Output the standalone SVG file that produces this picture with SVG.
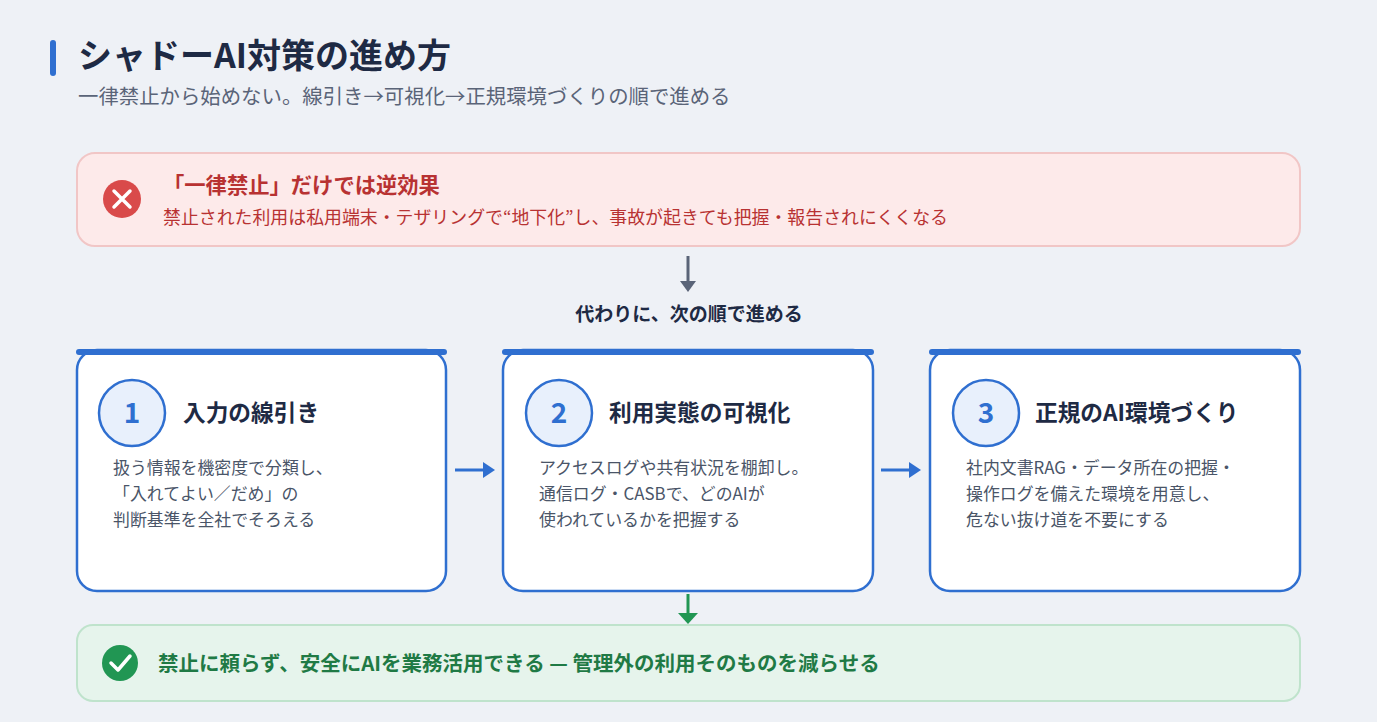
<svg xmlns="http://www.w3.org/2000/svg" width="1377" height="722" viewBox="0 0 1377 722">
<style>
text{font-family:"Noto Sans CJK JP","Noto Sans",sans-serif}
.card{fill:#fff;stroke:#2f6fd0;stroke-width:2.5}
.bar{stroke:#2f6fd0;stroke-width:6;stroke-linecap:round}
.circ{fill:#e8f0fc;stroke:#2f6fd0;stroke-width:2.5}
.num{font-size:28px;font-weight:700;fill:#2f6fd0;text-anchor:middle}
.ttl{font-size:22.7px;font-weight:700;fill:#1e2a44}
.body{font-size:16.9px;fill:#4a5568}
</style>
<rect width="1377" height="722" fill="#eef1f6"/>
<rect x="50" y="40" width="6" height="36" rx="3" fill="#2f6fd0"/>
<text x="78" y="68" font-size="34" font-weight="700" fill="#1e2a44">シャドーAI対策の進め方</text>
<text x="78" y="104" font-size="20.4" fill="#5a6478">一律禁止から始めない。線引き→可視化→正規環境づくりの順で進める</text>

<g id="warn">
<rect x="77" y="153" width="1223" height="93" rx="18" fill="#fdeaea" stroke="#f1c6c6" stroke-width="2"/>
<circle cx="122" cy="199" r="19" fill="#d94a4a"/>
<path d="M114,191L130,207M130,191L114,207" stroke="#fff" stroke-width="3.5" stroke-linecap="round"/>
<text x="163" y="193" font-size="21.3" font-weight="700" fill="#b83232">「一律禁止」だけでは逆効果</text>
<text x="163" y="224" font-size="17.9" fill="#b83232">禁止された利用は私用端末・テザリングで“地下化”し、事故が起きても把握・報告されにくくなる</text>
</g>
<text x="689" y="321" font-size="19" font-weight="700" fill="#1e2a44" text-anchor="middle">代わりに、次の順で進める</text>

<g id="step1">
<rect class="card" x="77" y="350" width="369" height="241" rx="20"/>
<line class="bar" x1="79" y1="352" x2="444" y2="352"/>
<circle class="circ" cx="132" cy="413" r="33"/>
<text class="num" x="132" y="423">1</text>
<text class="ttl" x="183" y="421">入力の線引き</text>
<text class="body" x="113" y="474">扱う情報を機密度で分類し、</text>
<text class="body" x="113" y="500">「入れてよい／だめ」の</text>
<text class="body" x="113" y="526">判断基準を全社でそろえる</text>
</g>
<g id="step2">
<rect class="card" x="503" y="350" width="370" height="241" rx="20"/>
<line class="bar" x1="505" y1="352" x2="871" y2="352"/>
<circle class="circ" cx="559" cy="413" r="33"/>
<text class="num" x="559" y="423">2</text>
<text class="ttl" x="609" y="421">利用実態の可視化</text>
<text class="body" x="539" y="474">アクセスログや共有状況を棚卸し。</text>
<text class="body" x="539" y="500">通信ログ・CASBで、どのAIが</text>
<text class="body" x="539" y="526">使われているかを把握する</text>
</g>
<g id="step3">
<rect class="card" x="930" y="350" width="370" height="241" rx="20"/>
<line class="bar" x1="932" y1="352" x2="1298" y2="352"/>
<circle class="circ" cx="986" cy="413" r="33"/>
<text class="num" x="986" y="423">3</text>
<text class="ttl" x="1035" y="421">正規のAI環境づくり</text>
<text class="body" x="966" y="474">社内文書RAG・データ所在の把握・</text>
<text class="body" x="966" y="500">操作ログを備えた環境を用意し、</text>
<text class="body" x="966" y="526">危ない抜け道を不要にする</text>
</g>

<g id="result">
<rect x="77" y="625" width="1223" height="76" rx="16" fill="#e6f4ec" stroke="#bfe3cc" stroke-width="2"/>
<circle cx="120" cy="663" r="18" fill="#219653"/>
<path d="M111,663L118,670L130,656" stroke="#fff" stroke-width="3.5" fill="none" stroke-linecap="round" stroke-linejoin="round"/>
<text x="158" y="671" font-size="20.5" font-weight="700" fill="#1f7a45">禁止に頼らず、安全にAIを業務活用できる — 管理外の利用そのものを減らせる</text>
</g>

<g id="connectors">
<line x1="688" y1="256" x2="688" y2="282" stroke="#5a6478" stroke-width="3"/>
<path d="M680,281L696,281L688,292z" fill="#5a6478"/>
<line x1="455" y1="470" x2="485" y2="470" stroke="#2f6fd0" stroke-width="3"/>
<path d="M483,462L495,470L483,478z" fill="#2f6fd0"/>
<line x1="881" y1="470" x2="911" y2="470" stroke="#2f6fd0" stroke-width="3"/>
<path d="M909,462L921,470L909,478z" fill="#2f6fd0"/>
<line x1="688" y1="594" x2="688" y2="614" stroke="#219653" stroke-width="3"/>
<path d="M678,613L698,613L688,624z" fill="#219653"/>
</g>
</svg>
